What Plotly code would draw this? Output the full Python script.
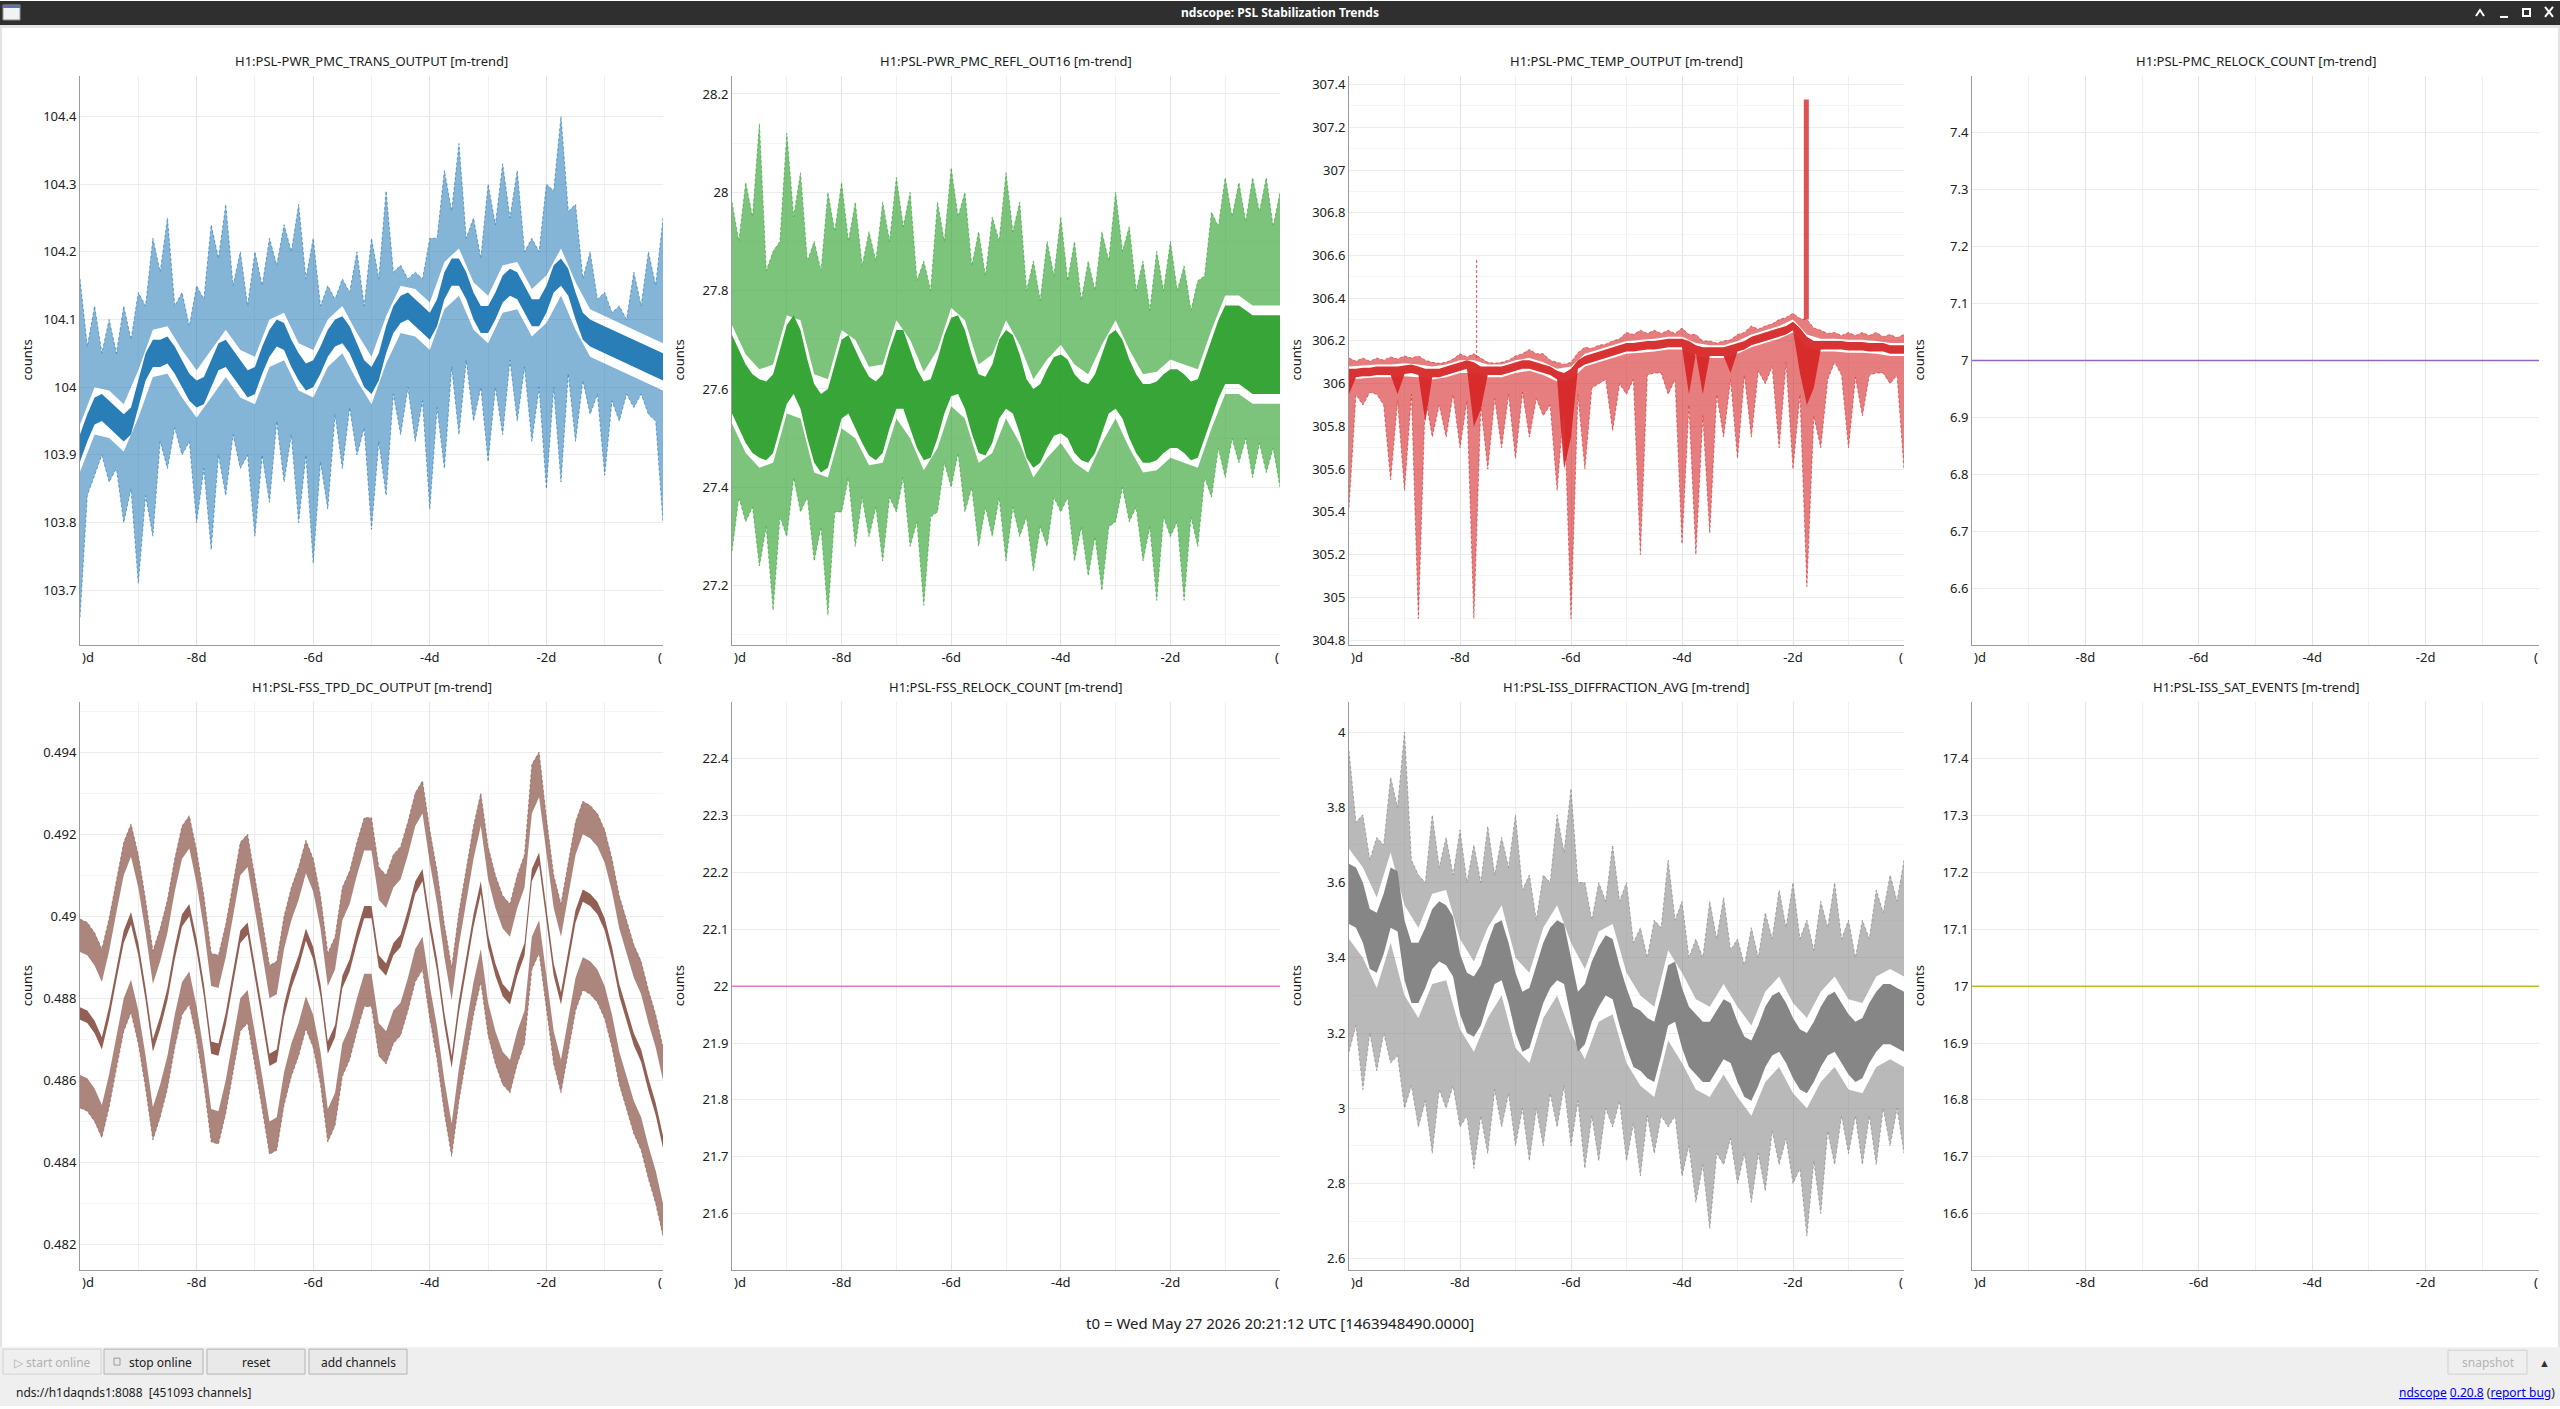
import numpy as np
import plotly.graph_objects as go


# === CANVAS (pixels of the ndscope window) ===
W, H = 2560, 1409

def px(x):
    return x / W

def py(y):
    return 1 - y / H


# === TIME AXIS (days relative to t0) ===
t_fine = np.linspace(-10, 0, 81)     # 3 h steps
t_coarse = np.linspace(-10, 0, 41)   # 6 h steps
t_flat = [-10, 0]

day_ticks = [-8, -6, -4, -2]
day_labels = ["-8d", "-6d", "-4d", "-2d"]


# === H1:PSL-PWR_PMC_TRANS_OUTPUT (spread of mean / max / min traces) ===
pmc_trans_mean_hi = [
    103.93, 103.96, 103.985, 103.99, 103.98, 103.97, 103.96, 103.97, 104.01, 104.05,
    104.07, 104.07, 104.075, 104.06, 104.04, 104.02, 104.01, 104.015, 104.04, 104.065,
    104.07, 104.055, 104.04, 104.025, 104.03, 104.06, 104.085, 104.1, 104.095, 104.07,
    104.05, 104.035, 104.04, 104.06, 104.085, 104.1, 104.105, 104.09, 104.065, 104.04,
    104.03, 104.05, 104.09, 104.12, 104.135, 104.14, 104.13, 104.12, 104.11, 104.13,
    104.17, 104.19, 104.19, 104.17, 104.14, 104.12, 104.12, 104.14, 104.165, 104.175,
    104.17, 104.15, 104.13, 104.13, 104.15, 104.18, 104.19, 104.175, 104.14, 104.11,
    104.1, 104.095, 104.09, 104.085, 104.08, 104.075, 104.07, 104.065, 104.06, 104.055,
    104.05]
pmc_trans_mean_lo = [
    103.89, 103.92, 103.945, 103.95, 103.94, 103.93, 103.92, 103.93, 103.97, 104.01,
    104.03, 104.03, 104.035, 104.02, 104.0, 103.98, 103.97, 103.975, 104.0, 104.025,
    104.03, 104.015, 104.0, 103.985, 103.99, 104.02, 104.045, 104.06, 104.055, 104.03,
    104.01, 103.995, 104.0, 104.02, 104.045, 104.06, 104.065, 104.05, 104.025, 104.0,
    103.99, 104.01, 104.05, 104.08, 104.095, 104.1, 104.09, 104.08, 104.07, 104.09,
    104.13, 104.15, 104.15, 104.13, 104.1, 104.08, 104.08, 104.1, 104.125, 104.135,
    104.13, 104.11, 104.09, 104.09, 104.11, 104.14, 104.15, 104.135, 104.1, 104.07,
    104.06, 104.055, 104.05, 104.045, 104.04, 104.035, 104.03, 104.025, 104.02, 104.015,
    104.01]
pmc_trans_max_hi = [
    104.16, 104.06, 104.12, 104.05, 104.10, 104.05, 104.12, 104.07, 104.14, 104.12,
    104.22, 104.17, 104.25, 104.12, 104.14, 104.09, 104.15, 104.13, 104.24, 104.19,
    104.27, 104.15, 104.20, 104.12, 104.20, 104.15, 104.22, 104.18, 104.24, 104.20,
    104.27, 104.16, 104.22, 104.12, 104.15, 104.13, 104.16, 104.14, 104.20, 104.12,
    104.22, 104.16, 104.29, 104.17, 104.18, 104.16, 104.17, 104.16, 104.22, 104.22,
    104.32, 104.26, 104.36, 104.22, 104.25, 104.19, 104.30, 104.24, 104.33, 104.25,
    104.32, 104.20, 104.22, 104.20, 104.30, 104.29, 104.40, 104.26, 104.27, 104.16,
    104.20, 104.13, 104.14, 104.11, 104.12, 104.10, 104.17, 104.12, 104.20, 104.15,
    104.25]
pmc_trans_max_lo = [
    103.945, 104.0, 103.995, 103.975, 104.025, 104.085, 104.09, 104.055, 104.025, 104.055,
    104.085, 104.055, 104.045, 104.1, 104.11, 104.065, 104.055, 104.1, 104.12, 104.08,
    104.045, 104.105, 104.15, 104.145, 104.125, 104.185, 104.205, 104.155, 104.135, 104.18,
    104.185, 104.145, 104.165, 104.205, 104.155, 104.115, 104.105, 104.095, 104.085, 104.075,
    104.065]
pmc_trans_min_hi = [
    103.875, 103.93, 103.925, 103.905, 103.955, 104.015, 104.02, 103.985, 103.955, 103.985,
    104.015, 103.985, 103.975, 104.03, 104.04, 103.995, 103.985, 104.03, 104.05, 104.01,
    103.975, 104.035, 104.08, 104.075, 104.055, 104.115, 104.135, 104.085, 104.065, 104.11,
    104.115, 104.075, 104.095, 104.135, 104.085, 104.045, 104.035, 104.025, 104.015, 104.005,
    103.995]
pmc_trans_min_lo = [
    103.66, 103.84, 103.87, 103.90, 103.86, 103.88, 103.80, 103.85, 103.71, 103.84,
    103.78, 103.92, 103.88, 103.94, 103.90, 103.92, 103.80, 103.88, 103.76, 103.90,
    103.84, 103.93, 103.88, 103.90, 103.78, 103.90, 103.83, 103.95, 103.86, 103.93,
    103.80, 103.90, 103.74, 103.89, 103.82, 103.96, 103.88, 103.97, 103.90, 103.94,
    103.79, 103.92, 103.84, 103.99, 103.93, 104.00, 103.92, 103.98, 103.82, 103.97,
    103.88, 104.03, 103.93, 104.04, 103.95, 104.00, 103.89, 104.00, 103.93, 104.04,
    103.95, 104.03, 103.92, 104.00, 103.85, 104.00, 103.86, 104.02, 103.92, 104.01,
    103.96, 103.99, 103.87, 103.98, 103.95, 103.99, 103.97, 103.99, 103.96, 103.95,
    103.80]
pmc_trans_ticks = [103.7, 103.8, 103.9, 104.0, 104.1, 104.2, 104.3, 104.4]
pmc_trans_labels = ["103.7", "103.8", "103.9", "104", "104.1", "104.2", "104.3", "104.4"]


# === H1:PSL-PWR_PMC_REFL_OUT16 ===
pmc_refl_mean_hi = [
    27.71, 27.68, 27.65, 27.63, 27.62, 27.615, 27.63, 27.68, 27.73, 27.75,
    27.72, 27.66, 27.61, 27.59, 27.60, 27.65, 27.70, 27.71, 27.68, 27.65,
    27.625, 27.615, 27.63, 27.68, 27.72, 27.72, 27.68, 27.64, 27.615, 27.62,
    27.66, 27.71, 27.745, 27.75, 27.72, 27.67, 27.63, 27.625, 27.65, 27.70,
    27.72, 27.71, 27.67, 27.62, 27.60, 27.61, 27.64, 27.665, 27.67, 27.66,
    27.63, 27.615, 27.61, 27.63, 27.67, 27.71, 27.72, 27.70, 27.66, 27.63,
    27.61, 27.61, 27.615, 27.63, 27.64, 27.64, 27.63, 27.615, 27.62, 27.66,
    27.70, 27.74, 27.77, 27.77, 27.77, 27.76, 27.75, 27.75, 27.75, 27.75,
    27.75]
pmc_refl_mean_lo = [
    27.55, 27.52, 27.49, 27.47, 27.46, 27.455, 27.47, 27.52, 27.57, 27.59,
    27.56, 27.50, 27.45, 27.43, 27.44, 27.49, 27.54, 27.55, 27.52, 27.49,
    27.465, 27.455, 27.47, 27.52, 27.56, 27.56, 27.52, 27.48, 27.455, 27.46,
    27.50, 27.55, 27.585, 27.59, 27.56, 27.51, 27.47, 27.465, 27.49, 27.54,
    27.56, 27.55, 27.51, 27.46, 27.44, 27.45, 27.48, 27.505, 27.51, 27.50,
    27.47, 27.455, 27.45, 27.47, 27.51, 27.55, 27.56, 27.54, 27.50, 27.47,
    27.45, 27.45, 27.455, 27.47, 27.48, 27.48, 27.47, 27.455, 27.46, 27.50,
    27.54, 27.58, 27.61, 27.61, 27.61, 27.60, 27.59, 27.59, 27.59, 27.59,
    27.59]
pmc_refl_max_hi = [
    27.98, 27.90, 28.02, 27.95, 28.14, 27.84, 27.88, 27.90, 28.12, 27.95,
    28.04, 27.86, 27.90, 27.84, 28.00, 27.92, 28.02, 27.90, 27.98, 27.85,
    27.92, 27.86, 27.98, 27.90, 28.03, 27.93, 28.00, 27.82, 27.86, 27.80,
    27.98, 27.90, 28.05, 27.95, 28.00, 27.85, 27.92, 27.83, 27.95, 27.90,
    28.04, 27.92, 27.98, 27.80, 27.86, 27.78, 27.90, 27.83, 27.95, 27.82,
    27.90, 27.78, 27.86, 27.80, 27.92, 27.86, 28.00, 27.88, 27.93, 27.80,
    27.86, 27.76, 27.88, 27.80, 27.90, 27.80, 27.85, 27.76, 27.82, 27.83,
    27.96, 27.93, 28.03, 27.95, 28.02, 27.94, 28.03, 27.96, 28.03, 27.93,
    28.00]
pmc_refl_max_lo = [
    27.73, 27.67, 27.64, 27.65, 27.75, 27.74, 27.63, 27.62, 27.72, 27.70,
    27.645, 27.65, 27.74, 27.70, 27.635, 27.68, 27.765, 27.74, 27.65, 27.67,
    27.74, 27.69, 27.62, 27.66, 27.69, 27.65, 27.63, 27.69, 27.74, 27.68,
    27.63, 27.635, 27.66, 27.65, 27.64, 27.72, 27.79, 27.79, 27.77, 27.77,
    27.77]
pmc_refl_min_hi = [
    27.53, 27.47, 27.44, 27.45, 27.55, 27.54, 27.43, 27.42, 27.52, 27.50,
    27.445, 27.45, 27.54, 27.50, 27.435, 27.48, 27.565, 27.54, 27.45, 27.47,
    27.54, 27.49, 27.42, 27.46, 27.49, 27.45, 27.43, 27.49, 27.54, 27.48,
    27.43, 27.435, 27.46, 27.45, 27.44, 27.52, 27.59, 27.59, 27.57, 27.57,
    27.57]
pmc_refl_min_lo = [
    27.27, 27.38, 27.33, 27.36, 27.24, 27.32, 27.15, 27.34, 27.30, 27.42,
    27.35, 27.38, 27.25, 27.32, 27.14, 27.35, 27.35, 27.42, 27.28, 27.38,
    27.30, 27.36, 27.25, 27.38, 27.35, 27.42, 27.28, 27.33, 27.16, 27.34,
    27.35, 27.45, 27.40, 27.47, 27.35, 27.40, 27.28, 27.36, 27.30, 27.38,
    27.25, 27.36, 27.30, 27.34, 27.23, 27.32, 27.28, 27.38, 27.35, 27.38,
    27.25, 27.32, 27.22, 27.30, 27.19, 27.32, 27.33, 27.40, 27.33, 27.36,
    27.25, 27.32, 27.17, 27.34, 27.30, 27.33, 27.17, 27.34, 27.28, 27.42,
    27.38, 27.48, 27.42, 27.50, 27.45, 27.50, 27.42, 27.49, 27.43, 27.48,
    27.40]
pmc_refl_ticks = [27.2, 27.4, 27.6, 27.8, 28.0, 28.2]
pmc_refl_labels = ["27.2", "27.4", "27.6", "27.8", "28", "28.2"]


# === H1:PSL-PMC_TEMP_OUTPUT ===
pmc_temp_mean_hi = [
    306.07, 306.07, 306.075, 306.075, 306.08, 306.08, 306.08, 306.08, 306.085, 306.09,
    306.08, 306.07, 306.07, 306.07, 306.08, 306.09, 306.10, 306.11, 306.10, 306.08,
    306.08, 306.08, 306.08, 306.09, 306.10, 306.11, 306.11, 306.10, 306.09, 306.08,
    306.06, 306.05, 306.07, 306.11, 306.13, 306.14, 306.15, 306.16, 306.17, 306.18,
    306.19, 306.19, 306.195, 306.20, 306.20, 306.205, 306.21, 306.21, 306.21, 306.20,
    306.18, 306.17, 306.17, 306.17, 306.17, 306.18, 306.19, 306.20, 306.22, 306.23,
    306.24, 306.25, 306.26, 306.27, 306.29, 306.26, 306.22, 306.20, 306.20, 306.20,
    306.20, 306.20, 306.195, 306.195, 306.195, 306.19, 306.19, 306.19, 306.18, 306.18,
    306.18]
pmc_temp_mean_lo = [
    305.95, 306.03, 306.035, 306.035, 306.04, 306.04, 306.04, 305.95, 306.045, 306.05,
    306.04, 305.82, 306.03, 306.03, 306.04, 306.05, 306.06, 306.07, 305.80, 305.88,
    306.04, 306.04, 306.04, 306.05, 306.06, 306.07, 306.07, 306.06, 306.05, 306.04,
    306.02, 305.60, 305.75, 306.07, 306.09, 306.10, 306.11, 306.12, 306.13, 306.14,
    306.15, 306.15, 306.155, 306.16, 306.16, 306.165, 306.17, 306.17, 306.17, 305.95,
    306.14, 305.95, 306.13, 306.13, 306.13, 306.05, 306.15, 306.16, 306.18, 306.19,
    306.20, 306.21, 306.22, 306.23, 306.25, 306.05, 305.90, 305.98, 306.16, 306.16,
    306.16, 306.16, 306.155, 306.155, 306.155, 306.15, 306.15, 306.15, 306.14, 306.14,
    306.14]
pmc_temp_max_hi = [
    306.12, 306.105, 306.12, 306.105, 306.12, 306.11, 306.125, 306.115, 306.13, 306.12,
    306.13, 306.11, 306.10, 306.095, 306.10, 306.115, 306.14, 306.125, 306.14, 306.12,
    306.10, 306.095, 306.10, 306.11, 306.13, 306.14, 306.16, 306.14, 306.14, 306.11,
    306.10, 306.09, 306.10, 306.145, 306.17, 306.165, 306.18, 306.185, 306.20, 306.21,
    306.24, 306.23, 306.25, 306.235, 306.25, 306.235, 306.25, 306.235, 306.26, 306.23,
    306.23, 306.20, 306.20, 306.19, 306.20, 306.205, 306.23, 306.24, 306.27, 306.255,
    306.27, 306.28, 306.30, 306.31, 306.33, 306.305, 306.30, 306.26, 306.25, 306.235,
    306.24, 306.225, 306.24, 306.225, 306.24, 306.225, 306.24, 306.22, 306.23, 306.215,
    306.23]
pmc_temp_max_lo = [
    306.08, 306.085, 306.09, 306.09, 306.095, 306.09, 306.08, 306.09, 306.11, 306.11,
    306.09, 306.09, 306.11, 306.12, 306.10, 306.07, 306.08, 306.14, 306.16, 306.18,
    306.20, 306.205, 306.21, 306.22, 306.22, 306.19, 306.18, 306.18, 306.20, 306.23,
    306.25, 306.27, 306.30, 306.23, 306.21, 306.21, 306.205, 306.205, 306.20, 306.19,
    306.19]
pmc_temp_min_hi = [
    306.02, 306.025, 306.03, 306.03, 306.035, 306.03, 306.02, 306.03, 306.05, 306.05,
    306.03, 306.03, 306.05, 306.06, 306.04, 306.01, 306.02, 306.08, 306.10, 306.12,
    306.14, 306.145, 306.15, 306.16, 306.16, 306.13, 306.12, 306.12, 306.14, 306.17,
    306.19, 306.21, 306.24, 306.17, 306.15, 306.15, 306.145, 306.145, 306.14, 306.13,
    306.13]
pmc_temp_min_lo = [
    305.42, 305.95, 305.90, 305.96, 305.95, 305.90, 305.55, 305.92, 305.50, 305.95,
    304.90, 305.94, 305.75, 305.90, 305.75, 305.95, 305.70, 305.92, 304.90, 305.90,
    305.60, 305.93, 305.70, 305.95, 305.65, 305.96, 305.75, 305.93, 305.85, 305.90,
    305.50, 305.92, 304.90, 305.95, 305.60, 305.98, 306.00, 306.02, 305.78, 306.00,
    305.95, 306.02, 305.20, 306.04, 306.05, 306.05, 305.95, 306.02, 305.25, 305.90,
    305.20, 305.85, 305.30, 305.95, 305.75, 306.02, 305.65, 306.04, 305.75, 306.06,
    306.00, 306.08, 305.70, 306.10, 305.60, 305.95, 305.05, 305.85, 305.70, 306.02,
    306.10, 306.04, 305.70, 306.03, 305.85, 306.04, 306.05, 306.05, 306.00, 306.04,
    305.60]
# isolated excursions of the max trace
pmc_temp_spike_t = [-7.7, -1.76]
pmc_temp_spike_base = [306.12, 306.30]
pmc_temp_spike_top = [306.58, 307.33]
pmc_temp_ticks = [304.8, 305.0, 305.2, 305.4, 305.6, 305.8, 306.0, 306.2, 306.4, 306.6,
                  306.8, 307.0, 307.2, 307.4]
pmc_temp_labels = ["304.8", "305", "305.2", "305.4", "305.6", "305.8", "306", "306.2",
                   "306.4", "306.6", "306.8", "307", "307.2", "307.4"]


# === H1:PSL-PMC_RELOCK_COUNT ===
pmc_relock = [7, 7]
relock_ticks_pmc = [6.6, 6.7, 6.8, 6.9, 7.0, 7.1, 7.2, 7.3, 7.4]
relock_labels_pmc = ["6.6", "6.7", "6.8", "6.9", "7", "7.1", "7.2", "7.3", "7.4"]


# === H1:PSL-FSS_TPD_DC_OUTPUT ===
fss_tpd_mean_hi = [
    0.48778, 0.48770, 0.48745, 0.48705, 0.48780, 0.48875, 0.48965, 0.49010, 0.48935, 0.48825,
    0.48700, 0.48755, 0.48825, 0.48925, 0.49005, 0.49030, 0.48945, 0.48835, 0.48695, 0.48690,
    0.48765, 0.48865, 0.48965, 0.48985, 0.48885, 0.48775, 0.48665, 0.48675, 0.48785, 0.48855,
    0.48905, 0.48970, 0.48925, 0.48835, 0.48695, 0.48735, 0.48855, 0.48895, 0.48965, 0.49025,
    0.49025, 0.48905, 0.48885, 0.48935, 0.48955, 0.49015, 0.49085, 0.49115, 0.48995, 0.48895,
    0.48765, 0.48660, 0.48795, 0.48905, 0.49005, 0.49085, 0.48955, 0.48885, 0.48835, 0.48815,
    0.48885, 0.48935, 0.49115, 0.49155, 0.49025, 0.48885, 0.48815, 0.48915, 0.49015, 0.49065,
    0.49055, 0.49035, 0.48995, 0.48925, 0.48835, 0.48775, 0.48715, 0.48675, 0.48605, 0.48545,
    0.48465]
fss_tpd_mean_lo = [
    0.48748, 0.48740, 0.48715, 0.48675, 0.48750, 0.48845, 0.48935, 0.48980, 0.48905, 0.48795,
    0.48670, 0.48725, 0.48795, 0.48895, 0.48975, 0.49000, 0.48915, 0.48805, 0.48665, 0.48660,
    0.48735, 0.48835, 0.48935, 0.48955, 0.48855, 0.48745, 0.48635, 0.48645, 0.48755, 0.48825,
    0.48875, 0.48940, 0.48895, 0.48805, 0.48665, 0.48705, 0.48825, 0.48865, 0.48935, 0.48995,
    0.48995, 0.48875, 0.48855, 0.48905, 0.48925, 0.48985, 0.49055, 0.49085, 0.48965, 0.48865,
    0.48735, 0.48630, 0.48765, 0.48875, 0.48975, 0.49055, 0.48925, 0.48855, 0.48805, 0.48785,
    0.48855, 0.48905, 0.49085, 0.49125, 0.48995, 0.48855, 0.48785, 0.48885, 0.48985, 0.49035,
    0.49025, 0.49005, 0.48965, 0.48895, 0.48805, 0.48745, 0.48685, 0.48645, 0.48575, 0.48515,
    0.48435]
fss_tpd_max_hi = [
    0.48993, 0.48985, 0.4896, 0.4892, 0.48995, 0.4909, 0.4918, 0.49225, 0.4915, 0.4904,
    0.48915, 0.4897, 0.4904, 0.4914, 0.4922, 0.49245, 0.4916, 0.4905, 0.4891, 0.48905,
    0.4898, 0.4908, 0.4918, 0.4920, 0.4910, 0.4899, 0.4888, 0.4889, 0.4900, 0.4907,
    0.4912, 0.49185, 0.4914, 0.4905, 0.4891, 0.4895, 0.4907, 0.4911, 0.4918, 0.4924,
    0.4924, 0.4912, 0.4910, 0.4915, 0.4917, 0.4923, 0.4930, 0.4933, 0.4921, 0.4911,
    0.4898, 0.48875, 0.4901, 0.4912, 0.4922, 0.4930, 0.4917, 0.4910, 0.4905, 0.4903,
    0.4910, 0.4915, 0.4937, 0.4940, 0.4924, 0.4910, 0.4903, 0.4913, 0.4923, 0.4928,
    0.4927, 0.4925, 0.4921, 0.4914, 0.4905, 0.4899, 0.4893, 0.4889, 0.4882, 0.4876,
    0.4868]
fss_tpd_max_lo = [
    0.48913, 0.48905, 0.4888, 0.4884, 0.48915, 0.4901, 0.4910, 0.49145, 0.4907, 0.4896,
    0.48835, 0.4889, 0.4896, 0.4906, 0.4914, 0.49165, 0.4908, 0.4897, 0.4883, 0.48825,
    0.4890, 0.4900, 0.4910, 0.4912, 0.4902, 0.4891, 0.4880, 0.4881, 0.4892, 0.4899,
    0.4904, 0.49105, 0.4906, 0.4897, 0.4883, 0.4887, 0.4899, 0.4903, 0.4910, 0.4916,
    0.4916, 0.4904, 0.4902, 0.4907, 0.4909, 0.4915, 0.4922, 0.4925, 0.4913, 0.4903,
    0.4890, 0.48795, 0.4893, 0.4904, 0.4914, 0.4922, 0.4909, 0.4902, 0.4897, 0.4895,
    0.4902, 0.4907, 0.4925, 0.4929, 0.4916, 0.4902, 0.4895, 0.4905, 0.4915, 0.4920,
    0.4919, 0.4917, 0.4913, 0.4906, 0.4897, 0.4891, 0.4885, 0.4881, 0.4874, 0.4868,
    0.4860]
fss_tpd_min_hi = [
    0.48613, 0.48605, 0.4858, 0.4854, 0.48615, 0.4871, 0.4880, 0.48845, 0.4877, 0.4866,
    0.48535, 0.4859, 0.4866, 0.4876, 0.4884, 0.48865, 0.4878, 0.4867, 0.4853, 0.48525,
    0.4860, 0.4870, 0.4880, 0.4882, 0.4872, 0.4861, 0.4850, 0.4851, 0.4862, 0.4869,
    0.4874, 0.48805, 0.4876, 0.4867, 0.4853, 0.4857, 0.4869, 0.4873, 0.4880, 0.4886,
    0.4886, 0.4874, 0.4872, 0.4877, 0.4879, 0.4885, 0.4892, 0.4895, 0.4883, 0.4873,
    0.4860, 0.48495, 0.4863, 0.4874, 0.4884, 0.4892, 0.4879, 0.4872, 0.4867, 0.4865,
    0.4872, 0.4877, 0.4895, 0.4899, 0.4886, 0.4872, 0.4865, 0.4875, 0.4885, 0.4890,
    0.4889, 0.4887, 0.4883, 0.4876, 0.4867, 0.4861, 0.4855, 0.4851, 0.4844, 0.4838,
    0.4830]
fss_tpd_min_lo = [
    0.48533, 0.48525, 0.4850, 0.4846, 0.48535, 0.4863, 0.4872, 0.48765, 0.4869, 0.4858,
    0.48455, 0.4851, 0.4858, 0.4868, 0.4876, 0.48785, 0.4870, 0.4859, 0.4845, 0.48445,
    0.4852, 0.4862, 0.4872, 0.4874, 0.4864, 0.4853, 0.4842, 0.4843, 0.4854, 0.4861,
    0.4866, 0.48725, 0.4868, 0.4859, 0.4845, 0.4849, 0.4861, 0.4865, 0.4872, 0.4878,
    0.4878, 0.4866, 0.4864, 0.4869, 0.4871, 0.4877, 0.4884, 0.4887, 0.4875, 0.4865,
    0.4852, 0.48415, 0.4855, 0.4866, 0.4876, 0.4884, 0.4871, 0.4864, 0.4859, 0.4857,
    0.4864, 0.4869, 0.4887, 0.4891, 0.4878, 0.4864, 0.4857, 0.4867, 0.4877, 0.4882,
    0.4881, 0.4879, 0.4875, 0.4868, 0.4859, 0.4853, 0.4847, 0.4843, 0.4836, 0.4830,
    0.4822]
fss_tpd_ticks = [0.482, 0.484, 0.486, 0.488, 0.490, 0.492, 0.494]
fss_tpd_labels = ["0.482", "0.484", "0.486", "0.488", "0.49", "0.492", "0.494"]


# === H1:PSL-FSS_RELOCK_COUNT ===
fss_relock = [22, 22]
relock_ticks_fss = [21.6, 21.7, 21.8, 21.9, 22.0, 22.1, 22.2, 22.3, 22.4]
relock_labels_fss = ["21.6", "21.7", "21.8", "21.9", "22", "22.1", "22.2", "22.3", "22.4"]


# === H1:PSL-ISS_DIFFRACTION_AVG ===
iss_diff_mean_hi = [
    3.65, 3.64, 3.60, 3.53, 3.52, 3.57, 3.64, 3.63, 3.50, 3.44,
    3.44, 3.48, 3.53, 3.55, 3.54, 3.51, 3.41, 3.36, 3.35, 3.38,
    3.44, 3.49, 3.50, 3.44, 3.36, 3.31, 3.32, 3.38, 3.44, 3.48,
    3.50, 3.49, 3.40, 3.31, 3.33, 3.39, 3.43, 3.46, 3.45, 3.38,
    3.32, 3.27, 3.26, 3.24, 3.23, 3.30, 3.38, 3.39, 3.32, 3.27,
    3.25, 3.23, 3.23, 3.26, 3.29, 3.28, 3.23, 3.19, 3.18, 3.22,
    3.27, 3.30, 3.31, 3.28, 3.24, 3.21, 3.20, 3.23, 3.27, 3.30,
    3.31, 3.28, 3.25, 3.23, 3.24, 3.28, 3.31, 3.33, 3.33, 3.32,
    3.31]
iss_diff_mean_lo = [
    3.49, 3.48, 3.44, 3.37, 3.36, 3.41, 3.48, 3.47, 3.34, 3.28,
    3.28, 3.32, 3.37, 3.39, 3.38, 3.35, 3.25, 3.20, 3.19, 3.22,
    3.28, 3.33, 3.34, 3.28, 3.20, 3.15, 3.16, 3.22, 3.28, 3.32,
    3.34, 3.33, 3.24, 3.15, 3.17, 3.23, 3.27, 3.30, 3.29, 3.22,
    3.16, 3.11, 3.10, 3.08, 3.07, 3.14, 3.22, 3.23, 3.16, 3.11,
    3.09, 3.07, 3.07, 3.10, 3.13, 3.12, 3.07, 3.03, 3.02, 3.06,
    3.11, 3.14, 3.15, 3.12, 3.08, 3.05, 3.04, 3.07, 3.11, 3.14,
    3.15, 3.12, 3.09, 3.07, 3.08, 3.12, 3.15, 3.17, 3.17, 3.16,
    3.15]
iss_diff_max_hi = [
    3.95, 3.76, 3.78, 3.66, 3.72, 3.70, 3.88, 3.80, 4.00, 3.66,
    3.62, 3.60, 3.78, 3.64, 3.72, 3.62, 3.74, 3.60, 3.70, 3.60,
    3.75, 3.62, 3.72, 3.64, 3.78, 3.58, 3.62, 3.50, 3.62, 3.60,
    3.78, 3.68, 3.85, 3.60, 3.60, 3.50, 3.60, 3.55, 3.70, 3.55,
    3.60, 3.44, 3.48, 3.40, 3.50, 3.48, 3.66, 3.50, 3.55, 3.40,
    3.45, 3.40, 3.55, 3.45, 3.56, 3.42, 3.45, 3.38, 3.48, 3.40,
    3.52, 3.45, 3.58, 3.48, 3.60, 3.45, 3.50, 3.42, 3.55, 3.48,
    3.60, 3.45, 3.50, 3.40, 3.50, 3.45, 3.58, 3.52, 3.62, 3.55,
    3.66]
iss_diff_max_lo = [
    3.69, 3.64, 3.56, 3.68, 3.54, 3.48, 3.57, 3.58, 3.45, 3.39,
    3.48, 3.54, 3.40, 3.36, 3.48, 3.54, 3.44, 3.37, 3.47, 3.49,
    3.36, 3.30, 3.27, 3.42, 3.36, 3.29, 3.27, 3.33, 3.27, 3.22,
    3.31, 3.35, 3.28, 3.24, 3.31, 3.35, 3.29, 3.28, 3.35, 3.37,
    3.35]
iss_diff_min_hi = [
    3.45, 3.40, 3.32, 3.44, 3.30, 3.24, 3.33, 3.34, 3.21, 3.15,
    3.24, 3.30, 3.16, 3.12, 3.24, 3.30, 3.20, 3.13, 3.23, 3.25,
    3.12, 3.06, 3.03, 3.18, 3.12, 3.05, 3.03, 3.09, 3.03, 2.98,
    3.07, 3.11, 3.04, 3.00, 3.07, 3.11, 3.05, 3.04, 3.11, 3.13,
    3.11]
iss_diff_min_lo = [
    3.15, 3.22, 3.05, 3.20, 3.10, 3.20, 3.12, 3.14, 3.00, 3.06,
    2.95, 3.02, 2.88, 3.05, 3.00, 3.06, 2.95, 2.98, 2.84, 2.98,
    2.88, 3.05, 2.95, 3.04, 2.90, 3.00, 2.86, 3.00, 2.90, 3.04,
    2.95, 3.06, 2.90, 3.02, 2.84, 2.98, 2.86, 3.00, 2.95, 3.02,
    2.86, 2.96, 2.82, 2.98, 2.88, 2.98, 2.95, 2.98, 2.82, 2.90,
    2.75, 2.85, 2.68, 2.88, 2.85, 2.92, 2.80, 2.88, 2.75, 2.88,
    2.78, 2.94, 2.85, 2.92, 2.80, 2.84, 2.66, 2.86, 2.72, 2.94,
    2.85, 2.98, 2.88, 2.98, 2.85, 2.98, 2.85, 3.00, 2.90, 3.00,
    2.88]
iss_diff_ticks = [2.6, 2.8, 3.0, 3.2, 3.4, 3.6, 3.8, 4.0]
iss_diff_labels = ["2.6", "2.8", "3", "3.2", "3.4", "3.6", "3.8", "4"]


# === H1:PSL-ISS_SAT_EVENTS ===
iss_sat = [17, 17]
sat_ticks = [16.6, 16.7, 16.8, 16.9, 17.0, 17.1, 17.2, 17.3, 17.4]
sat_labels = ["16.6", "16.7", "16.8", "16.9", "17", "17.1", "17.2", "17.3", "17.4"]


# === PANEL SETUP ===
cols_px = [(80, 663), (732, 1280), (1349, 1904), (1972, 2539)]
rows_px = [(75, 646), (703, 1273)]

panels = [
    dict(title="H1:PSL-PWR_PMC_TRANS_OUTPUT [m-trend]", row=0, col=0, color="#1f77b4",
         yrange=[103.619, 104.46], ticks=pmc_trans_ticks, labels=pmc_trans_labels, minor=None,
         t_inner=t_coarse, t_outer=t_fine, alpha=0.55,
         mean=(pmc_trans_mean_hi, pmc_trans_mean_lo),
         maxb=(pmc_trans_max_hi, pmc_trans_max_lo),
         minb=(pmc_trans_min_hi, pmc_trans_min_lo)),
    dict(title="H1:PSL-PWR_PMC_REFL_OUT16 [m-trend]", row=0, col=1, color="#2ca02c",
         yrange=[27.079, 28.237], ticks=pmc_refl_ticks, labels=pmc_refl_labels, minor=0.1,
         t_inner=t_coarse, t_outer=t_fine, alpha=0.62,
         mean=(pmc_refl_mean_hi, pmc_refl_mean_lo),
         maxb=(pmc_refl_max_hi, pmc_refl_max_lo),
         minb=(pmc_refl_min_hi, pmc_refl_min_lo)),
    dict(title="H1:PSL-PMC_TEMP_OUTPUT [m-trend]", row=0, col=2, color="#d62728",
         yrange=[304.776, 307.441], ticks=pmc_temp_ticks, labels=pmc_temp_labels, minor=0.1,
         t_inner=t_coarse, t_outer=t_fine, alpha=0.6,
         mean=(pmc_temp_mean_hi, pmc_temp_mean_lo),
         maxb=(pmc_temp_max_hi, pmc_temp_max_lo),
         minb=(pmc_temp_min_hi, pmc_temp_min_lo)),
    dict(title="H1:PSL-PMC_RELOCK_COUNT [m-trend]", row=0, col=3, color="#9467bd",
         yrange=[6.5, 7.5], ticks=relock_ticks_pmc, labels=relock_labels_pmc, minor=None,
         flat=pmc_relock),
    dict(title="H1:PSL-FSS_TPD_DC_OUTPUT [m-trend]", row=1, col=0, color="#8c564b",
         yrange=[0.48137, 0.49522], ticks=fss_tpd_ticks, labels=fss_tpd_labels, minor=0.001,
         t_inner=t_fine, t_outer=t_fine, alpha=0.72,
         mean=(fss_tpd_mean_hi, fss_tpd_mean_lo),
         maxb=(fss_tpd_max_hi, fss_tpd_max_lo),
         minb=(fss_tpd_min_hi, fss_tpd_min_lo)),
    dict(title="H1:PSL-FSS_RELOCK_COUNT [m-trend]", row=1, col=1, color="#e377c2",
         yrange=[21.5, 22.5], ticks=relock_ticks_fss, labels=relock_labels_fss, minor=None,
         flat=fss_relock),
    dict(title="H1:PSL-ISS_DIFFRACTION_AVG [m-trend]", row=1, col=2, color="#7f7f7f",
         yrange=[2.569, 4.080], ticks=iss_diff_ticks, labels=iss_diff_labels, minor=0.1,
         t_inner=t_coarse, t_outer=t_fine, alpha=0.55,
         mean=(iss_diff_mean_hi, iss_diff_mean_lo),
         maxb=(iss_diff_max_hi, iss_diff_max_lo),
         minb=(iss_diff_min_hi, iss_diff_min_lo)),
    dict(title="H1:PSL-ISS_SAT_EVENTS [m-trend]", row=1, col=3, color="#bcbd22",
         yrange=[16.5, 17.5], ticks=sat_ticks, labels=sat_labels, minor=None,
         flat=iss_sat),
]


def rgba(hex_color, a):
    h = hex_color.lstrip("#")
    return f"rgba({int(h[0:2], 16)},{int(h[2:4], 16)},{int(h[4:6], 16)},{a})"


FONT = "Noto Sans"
TXT = "#202020"

fig = go.Figure()
annotations = []
shapes = []
layout_axes = {}


def band(t_hi, hi, t_lo, lo, color, alpha, xa, ya):
    fig.add_trace(go.Scatter(
        x=list(t_hi) + list(t_lo)[::-1], y=list(hi) + list(lo)[::-1],
        fill="toself", fillcolor=rgba(color, alpha), mode="lines",
        line=dict(width=0), hoverinfo="skip", showlegend=False,
        xaxis=xa, yaxis=ya))


def edge(t, y, color, xa, ya):
    fig.add_trace(go.Scatter(
        x=list(t), y=list(y), mode="lines",
        line=dict(color=rgba(color, 0.6), width=1, dash="3px,2px"),
        hoverinfo="skip", showlegend=False, xaxis=xa, yaxis=ya))


# === MAIN LOOP OVER PANELS ===
for n, p in enumerate(panels, start=1):
    sfx = "" if n == 1 else str(n)
    xa, ya = "x" + sfx, "y" + sfx
    x0, x1 = cols_px[p["col"]]
    y0, y1 = rows_px[p["row"]]
    c = p["color"]

    if "flat" in p:
        fig.add_trace(go.Scatter(
            x=t_flat, y=p["flat"], mode="lines", line=dict(color=c, width=1.6),
            hoverinfo="skip", showlegend=False, xaxis=xa, yaxis=ya))
    else:
        ti, to = p["t_inner"], p["t_outer"]
        band(to, p["maxb"][0], ti, p["maxb"][1], c, p["alpha"], xa, ya)
        band(ti, p["minb"][0], to, p["minb"][1], c, p["alpha"], xa, ya)
        edge(to, p["maxb"][0], c, xa, ya)
        edge(to, p["minb"][1], c, xa, ya)
        band(t_fine, p["mean"][0], t_fine, p["mean"][1], c, 0.95, xa, ya)

    # --- Axes ---
    layout_axes["xaxis" + sfx] = dict(
        domain=[px(x0), px(x1)], anchor=ya, range=[-10, 0],
        tickmode="array", tickvals=day_ticks, ticktext=day_labels,
        showgrid=True, gridcolor="#e3e3e3", gridwidth=1,
        minor=dict(tickmode="array", tickvals=[-9, -7, -5, -3, -1, 0],
                   showgrid=True, gridcolor="#efefef", ticks=""),
        showline=True, linecolor="#9b9b9b", linewidth=1, zeroline=False,
        ticks="", tickfont=dict(family=FONT, size=13, color=TXT), fixedrange=True)
    ydict = dict(
        domain=[py(y1), py(y0)], anchor=xa, range=p["yrange"],
        tickmode="array", tickvals=p["ticks"], ticktext=p["labels"],
        showgrid=True, gridcolor="#ececec", gridwidth=1,
        showline=True, linecolor="#9b9b9b", linewidth=1, zeroline=False,
        ticks="", tickfont=dict(family=FONT, size=13, color=TXT), fixedrange=True)
    if p["minor"]:
        ydict["minor"] = dict(dtick=p["minor"], tick0=0, showgrid=True,
                              gridcolor="#f5f5f5", ticks="")
    layout_axes["yaxis" + sfx] = ydict

    # --- Panel title, y label, clipped edge labels ---
    annotations.append(dict(text=p["title"], x=px((x0 + x1) / 2), y=py(y0 - 15),
                            xanchor="center", yanchor="middle",
                            xref="paper", yref="paper", showarrow=False,
                            font=dict(family=FONT, size=13, color=TXT)))
    annotations.append(dict(text="counts", x=px(x0 - 53), y=py((y0 + y1) / 2),
                            xanchor="center", yanchor="middle",
                            xref="paper", yref="paper", showarrow=False, textangle=-90,
                            font=dict(family=FONT, size=13, color=TXT)))
    annotations.append(dict(text=")d", x=px(x0), y=py(y1 + 12),
                            xanchor="left", yanchor="middle",
                            xref="paper", yref="paper", showarrow=False,
                            font=dict(family=FONT, size=13, color=TXT)))
    annotations.append(dict(text="(", x=px(x1 + 1), y=py(y1 + 12),
                            xanchor="right", yanchor="middle",
                            xref="paper", yref="paper", showarrow=False,
                            font=dict(family=FONT, size=13, color=TXT)))

# --- isolated spikes of the PMC temperature max trace ---
for st, sb, stop, w in zip(pmc_temp_spike_t, pmc_temp_spike_base, pmc_temp_spike_top, [1, 5]):
    fig.add_trace(go.Scatter(
        x=[st, st], y=[sb, stop], mode="lines",
        line=dict(color=rgba("#d62728", 0.8), width=w, dash="3px,2px" if w == 1 else "solid"),
        hoverinfo="skip", showlegend=False, xaxis="x3", yaxis="y3"))


# === WINDOW CHROME ===
def rect(x0, y0, x1, y1, fill, line=None, lw=1):
    shapes.append(dict(type="rect", xref="paper", yref="paper",
                       x0=px(x0), x1=px(x1), y0=py(y1), y1=py(y0),
                       fillcolor=fill, line=dict(color=line or fill, width=lw if line else 0),
                       layer="above"))

def seg(pts, color, lw=2):
    path = "M " + " L ".join(f"{px(a)},{py(b)}" for a, b in pts)
    shapes.append(dict(type="path", xref="paper", yref="paper", path=path,
                       line=dict(color=color, width=lw), layer="above"))

def label(text, x, y, size=12, color=TXT, anchor="center", bold=False):
    annotations.append(dict(text=f"<b>{text}</b>" if bold else text,
                            x=px(x), y=py(y), xanchor=anchor, yanchor="middle",
                            xref="paper", yref="paper", showarrow=False,
                            font=dict(family=FONT, size=size, color=color)))

# title bar
rect(0, 0, W, 24, "#2f2f2f")
rect(0, 24, W, 27, "#e4e4e4")
rect(0, 27, 2, 1350, "#e4e4e4")
rect(W - 2, 27, W, 1350, "#e4e4e4")
rect(3, 4, 20, 19, "#f2f2f2", "#9a9a9a")
rect(3, 4, 20, 7, "#5577aa")
label("ndscope: PSL Stabilization Trends", 1280, 12, size=12, color="#ffffff", bold=True)
seg([(2476, 15), (2480, 9), (2484, 15)], "#ffffff")
seg([(2500, 16), (2508, 16)], "#ffffff")
rect(2523, 8, 2530, 15, "rgba(0,0,0,0)", "#ffffff", 2)
seg([(2545, 6), (2553, 16)], "#ffffff")
seg([(2545, 16), (2553, 6)], "#ffffff")

# t0 line
label("t0 = Wed May 27 2026 20:21:12 UTC [1463948490.0000]", 1280, 1326, size=15)

# bottom toolbar
rect(0, 1350, W, H, "#efefef")
rect(3, 1352, 101, 1377, "#efefef", "#d2d2d2")
rect(104, 1352, 203, 1377, "#e9e9e9", "#b4b4b4")
rect(207, 1352, 305, 1377, "#e9e9e9", "#b4b4b4")
rect(309, 1352, 407, 1377, "#e9e9e9", "#b4b4b4")
rect(2448, 1353, 2527, 1377, "#efefef", "#cfcfcf")
rect(114, 1361, 120, 1368, "#e8e8e8", "#9a9a9a")
label("▷ start online", 52, 1365, size=12, color="#b0b0b0")
label("stop online", 160, 1365, size=12)
label("reset", 256, 1365, size=12)
label("add channels", 358, 1365, size=12)
label("snapshot", 2488, 1365, size=12, color="#b4b4b4")
label("▲", 2544, 1365, size=11, color="#303030")
label("nds://h1daqnds1:8088  [451093 channels]", 14, 1395, size=12, anchor="left")
label('<span style="color:#0000ee"><u>ndscope</u></span> '
      '<span style="color:#0000ee"><u>0.20.8</u></span> '
      '(<span style="color:#0000ee"><u>report bug</u></span>)',
      2557, 1395, size=12, anchor="right")


# === LAYOUT ===
fig.update_layout(
    width=W, height=H,
    margin=dict(l=0, r=0, t=0, b=0),
    paper_bgcolor="white", plot_bgcolor="white",
    showlegend=False,
    annotations=annotations, shapes=shapes,
    **layout_axes,
)

fig.write_html("out.html", config=dict(displayModeBar=False),
               post_script="document.body.style.margin='0px';document.body.style.overflow='hidden';")
